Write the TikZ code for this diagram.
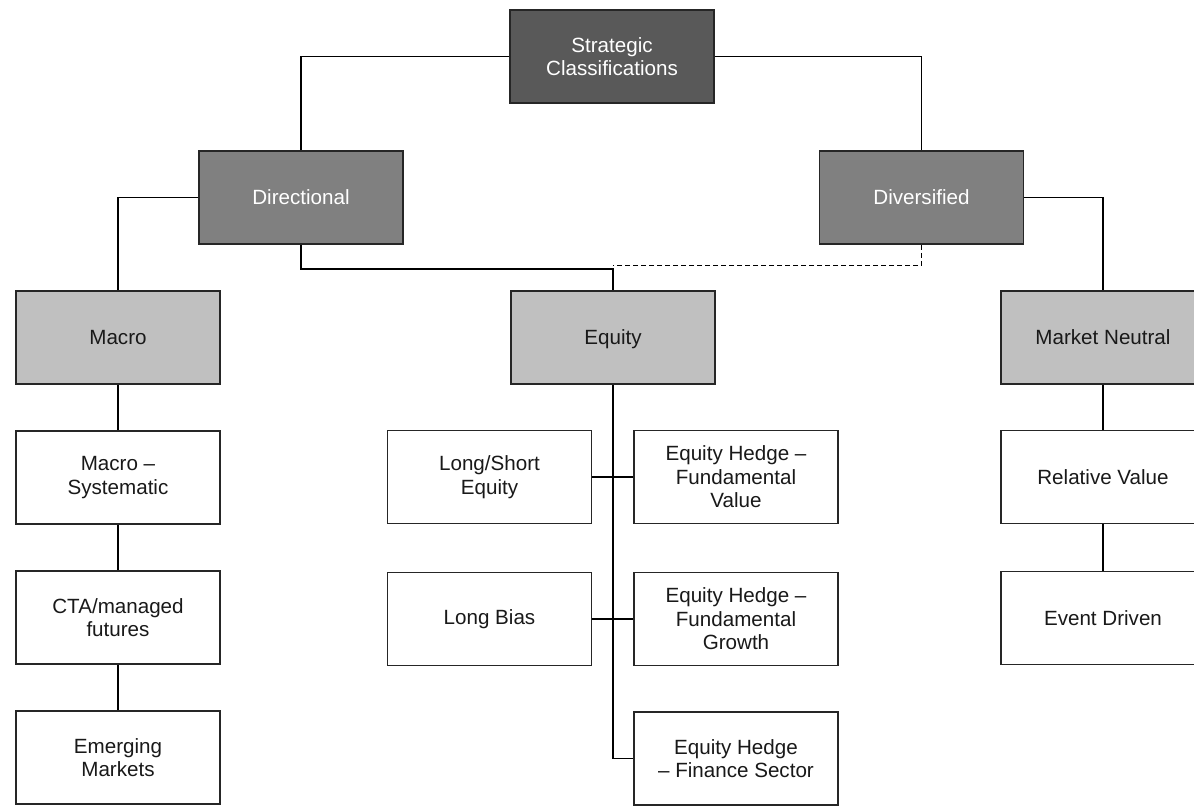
\documentclass[tikz,border=0pt]{standalone}
\usepackage{fontspec}
\setmainfont{Liberation Sans}
\definecolor{darkbox}{HTML}{595959}
\definecolor{midbox}{HTML}{808080}
\definecolor{lightbox}{HTML}{C0C0C0}
\begin{document}
\begin{tikzpicture}[x=0.5pt,y=-0.5pt,
  box/.style={draw=black!85, line width=0.85pt, minimum width=102pt, minimum height=46.5pt,
    inner sep=0pt, align=center, font=\fontsize{10.3}{11.7}\selectfont, text=black!90, fill=white},
  topbox/.style={box, fill=darkbox, text=white},
  midlvl/.style={box, fill=midbox, text=white},
  catbox/.style={box, fill=lightbox},
  link/.style={line width=0.95pt, draw=black},
  dlink/.style={link, dash pattern=on 2.5pt off 1.5pt}]
\useasboundingbox (0,0) rectangle (1194,805);
\clip (0,0) rectangle (1194,805);
\fill[white] (0,0) rectangle (1194,805);
% nodes
\node[topbox] (sc) at (612,56.5) {Strategic\\Classifications};
\node[midlvl] (dir) at (301,197.5) {Directional};
\node[midlvl] (div) at (921.5,197.5) {Diversified};
\node[catbox] (mac) at (118,337.5) {Macro};
\node[catbox, text depth=0pt] (eq) at (613,337.5) {Equity};
\node[catbox] (mn) at (1103,337.5) {Market Neutral};
\node[box] (ms) at (118,477.5) {Macro –\\Systematic};
\node[box] (cta) at (118,617.5) {CTA/managed\\futures};
\node[box] (em) at (118,757.5) {Emerging\\Markets};
\node[box] (rv) at (1103,477) {Relative Value};
\node[box] (ed) at (1103,618) {Event Driven};
\node[box] (ls) at (489.5,477) {Long/Short\\Equity};
\node[box] (lb) at (489.5,619) {Long Bias};
\node[box] (fv) at (736,477) {Equity Hedge –\\Fundamental\\Value};
\node[box] (fg) at (736,619) {Equity Hedge –\\Fundamental\\Growth};
\node[box] (fs) at (736,758.5) {Equity Hedge\\– Finance Sector};
\coordinate (jd) at (613,265.5);
% connectors
\draw[link] (sc.west) -| (dir.north);
\draw[link] (sc.east) -| (div.north);
\draw[link] (dir.west) -| (mac.north);
\draw[link] (div.east) -| (mn.north);
\draw[dlink] (div.south) |- (jd);
\draw[link] (dir.south) -- ++(0,24) -| (eq.north);
\draw[link] (mac.south) -- (ms.north);
\draw[link] (ms.south) -- (cta.north);
\draw[link] (cta.south) -- (em.north);
\draw[link] (mn.south) -- (rv.north);
\draw[link] (rv.south) -- (ed.north);
\draw[link] (eq.south) |- (fs.west);
\draw[link] (ls.east) -- (fv.west);
\draw[link] (lb.east) -- (fg.west);
\end{tikzpicture}
\end{document}
